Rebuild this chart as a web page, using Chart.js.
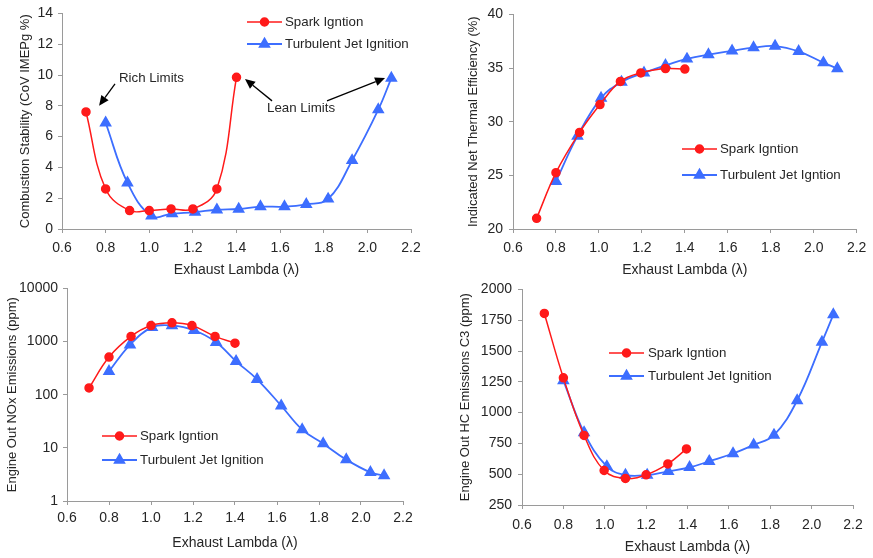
<!DOCTYPE html>
<html><head><meta charset="utf-8">
<script src="https://cdn.jsdelivr.net/npm/chart.js@4/dist/chart.umd.min.js"></script>
<style>
html,body{margin:0;padding:0;background:#fff;}
#wrap{position:relative;width:873px;height:558px;overflow:hidden;background:#fff;}
canvas{position:absolute;}
</style></head><body><div id="wrap">
<canvas id="c1" width="440" height="282" style="left:0;top:0"></canvas>
<canvas id="c2" width="433" height="282" style="left:440px;top:0"></canvas>
<canvas id="c3" width="440" height="283" style="left:0;top:275px"></canvas>
<canvas id="c4" width="433" height="283" style="left:440px;top:275px"></canvas>
</div>
<script>
// ---- data ----
const lambdaTicks = [0.6, 0.8, 1.0, 1.2, 1.4, 1.6, 1.8, 2.0, 2.2];
const seriesNames = ['Spark Igntion', 'Turbulent Jet Ignition'];
const seriesNamesEff = ['Spark Igntion', 'Turbulent Jet Igntion'];

// Combustion stability (CoV IMEPg %)
const covSI_x  = [0.71, 0.80, 0.91, 1.00, 1.10, 1.20, 1.31, 1.40];
const covSI_y  = [7.6, 2.6, 1.2, 1.2, 1.3, 1.3, 2.6, 9.85];
const covTJI_x = [0.80, 0.90, 1.01, 1.105, 1.21, 1.31, 1.41, 1.51, 1.62, 1.72, 1.82, 1.93, 2.05, 2.11];
const covTJI_y = [6.9, 3.0, 0.85, 1.0, 1.1, 1.25, 1.3, 1.45, 1.45, 1.6, 1.95, 4.45, 7.75, 9.8];
const covTicks = [0, 2, 4, 6, 8, 10, 12, 14];

// Indicated net thermal efficiency (%)
const effSI_x  = [0.71, 0.80, 0.91, 1.005, 1.10, 1.195, 1.31, 1.40];
const effSI_y  = [21.0, 25.25, 29.0, 31.6, 33.75, 34.55, 34.95, 34.9];
const effTJI_x = [0.80, 0.90, 1.01, 1.105, 1.21, 1.31, 1.41, 1.51, 1.62, 1.72, 1.82, 1.93, 2.045, 2.11];
const effTJI_y = [24.45, 28.65, 32.2, 33.7, 34.55, 35.25, 35.85, 36.25, 36.6, 36.9, 37.05, 36.55, 35.5, 34.95];
const effTicks = [20, 25, 30, 35, 40];

// Engine out NOx (ppm)
const noxSI_x  = [0.705, 0.80, 0.905, 1.00, 1.10, 1.195, 1.305, 1.40];
const noxSI_y  = [134, 510, 1250, 2000, 2250, 2000, 1250, 930];
const noxTJI_x = [0.80, 0.90, 1.005, 1.10, 1.205, 1.31, 1.405, 1.505, 1.62, 1.72, 1.82, 1.93, 2.045, 2.11];
const noxTJI_y = [275, 870, 1850, 2000, 1630, 970, 425, 195, 62, 22, 12, 6, 3.45, 3.0];
const noxTicks = [1, 10, 100, 1000, 10000];

// Engine out HC (ppm C3)
const hcSI_x  = [0.708, 0.80, 0.90, 0.997, 1.10, 1.20, 1.305, 1.395];
const hcSI_y  = [1805, 1282, 815, 530, 465, 495, 583, 705];
const hcTJI_x = [0.80, 0.90, 1.01, 1.10, 1.205, 1.307, 1.41, 1.505, 1.62, 1.72, 1.818, 1.93, 2.05, 2.105];
const hcTJI_y = [1260, 838, 563, 493, 493, 523, 555, 605, 668, 738, 818, 1098, 1572, 1795];
const hcTicks = [250, 500, 750, 1000, 1250, 1500, 1750, 2000];

// ---- styling ----
const RED = '#FF1A1A';
const BLUE = '#3D6EFF';
const FONT = "'Liberation Sans', Arial, sans-serif";
const TXT = '#262626';
const AX = '#9a9a9a';

function pts(xs, ys) { return xs.map((x, i) => ({x: x, y: ys[i]})); }

const legendPlugin = {
  id: 'innerLegend',
  afterDraw(chart, args, opts) {
    if (!opts || !opts.items) return;
    const ctx = chart.ctx;
    ctx.save();
    opts.items.forEach((it, i) => {
      const ds = chart.data.datasets[i];
      const y = it.y;
      ctx.strokeStyle = ds.borderColor;
      ctx.lineWidth = ds.borderWidth;
      ctx.beginPath(); ctx.moveTo(opts.x1, y); ctx.lineTo(opts.x2, y); ctx.stroke();
      Chart.helpers.drawPoint(ctx, {pointStyle: ds.pointStyle, radius: ds.pointRadius, borderWidth: 1, rotation: 0}, (opts.x1 + opts.x2) / 2, y);
      ctx.fillStyle = TXT;
      ctx.font = "13.3px " + FONT;
      ctx.textBaseline = 'middle';
      ctx.textAlign = 'left';
      ctx.fillText(ds.label, opts.tx, y);
    });
    ctx.restore();
  },
  beforeDraw() {}
};
// need fill style for drawPoint
const legendPlugin2 = {
  id: 'innerLegend2',
  afterDraw(chart, args, opts) {
    if (!opts || !opts.items) return;
    const ctx = chart.ctx;
    ctx.save();
    opts.items.forEach((it, i) => {
      const ds = chart.data.datasets[i];
      const y = it.y;
      ctx.strokeStyle = ds.borderColor;
      ctx.lineWidth = ds.borderWidth;
      ctx.beginPath(); ctx.moveTo(opts.x1, y); ctx.lineTo(opts.x2, y); ctx.stroke();
      ctx.fillStyle = ds.pointBackgroundColor;
      ctx.strokeStyle = ds.pointBackgroundColor;
      Chart.helpers.drawPoint(ctx, {pointStyle: ds.pointStyle, radius: ds.pointRadius, borderWidth: 1, rotation: 0}, (opts.x1 + opts.x2) / 2, y);
      ctx.fillStyle = TXT;
      ctx.font = "13.3px " + FONT;
      ctx.textBaseline = 'middle';
      ctx.textAlign = 'left';
      ctx.fillText(ds.label, opts.tx, y);
    });
    ctx.restore();
  }
};

const annotPlugin = {
  id: 'annot',
  afterDraw(chart, args, opts) {
    if (!opts || (!opts.arrows && !opts.texts)) return;
    const ctx = chart.ctx, xs = chart.scales.x, ys = chart.scales.y;
    ctx.save();
    (opts.texts || []).forEach(t => {
      ctx.fillStyle = TXT;
      ctx.font = "13.3px " + FONT;
      ctx.textAlign = 'left';
      ctx.textBaseline = 'middle';
      ctx.fillText(t.text, xs.getPixelForValue(t.x), ys.getPixelForValue(t.y));
    });
    (opts.arrows || []).forEach(a => {
      const x0 = xs.getPixelForValue(a.from[0]), y0 = ys.getPixelForValue(a.from[1]);
      const x1 = xs.getPixelForValue(a.to[0]), y1 = ys.getPixelForValue(a.to[1]);
      const ang = Math.atan2(y1 - y0, x1 - x0);
      const hl = 10, hw = 4.5;
      const bx = x1 - hl * Math.cos(ang), by = y1 - hl * Math.sin(ang);
      ctx.strokeStyle = '#000'; ctx.lineWidth = 1.3;
      ctx.beginPath(); ctx.moveTo(x0, y0); ctx.lineTo(bx, by); ctx.stroke();
      ctx.fillStyle = '#000';
      ctx.beginPath();
      ctx.moveTo(x1, y1);
      ctx.lineTo(bx + hw * Math.sin(ang), by - hw * Math.cos(ang));
      ctx.lineTo(bx - hw * Math.sin(ang), by + hw * Math.cos(ang));
      ctx.closePath(); ctx.fill();
    });
    ctx.restore();
  }
};

function makePanel(id, g, d) {
  const el = document.getElementById(id);
  const W = el.width, H = el.height;
  const isLog = d.yType === 'logarithmic';
  new Chart(el, {
    type: 'line',
    data: {
      datasets: [
        {label: d.names[0], data: pts(d.sx, d.sy), borderColor: RED, backgroundColor: RED,
         pointBackgroundColor: RED, pointBorderColor: RED, pointStyle: 'circle', pointRadius: 4,
         borderWidth: 1.5, tension: 0.4, fill: false},
        {label: d.names[1], data: pts(d.tx, d.ty), borderColor: BLUE, backgroundColor: BLUE,
         pointBackgroundColor: BLUE, pointBorderColor: BLUE, pointStyle: 'triangle', pointRadius: 5.5,
         borderWidth: 1.8, tension: 0.4, fill: false}
      ]
    },
    options: {
      responsive: false, animation: false, devicePixelRatio: 1,
      layout: {padding: {left: 0, top: g.T, right: W - g.R, bottom: 0}},
      plugins: {
        legend: {display: false}, tooltip: {enabled: false},
        innerLegend2: d.legend,
        annot: d.annot || {}
      },
      scales: {
        x: {
          type: 'linear', min: 0.6, max: 2.2,
          afterBuildTicks: s => { s.ticks = lambdaTicks.map(v => ({value: v})); },
          afterFit: s => { s.height = H - g.B; },
          ticks: {callback: v => Number(v).toFixed(1), font: {family: FONT, size: 14}, color: TXT,
                  padding: g.xgap - 4 - 8.4, maxRotation: 0, autoSkip: false},
          grid: {drawOnChartArea: false, drawTicks: true, tickLength: 4, color: AX},
          border: {color: AX, width: 1},
          title: {display: true, text: 'Exhaust Lambda (\u03BB)', font: {family: FONT, size: 14}, color: TXT,
                  padding: {top: 0, bottom: H - g.xt - 8.4}}
        },
        y: {
          type: d.yType, min: d.ymin, max: d.ymax,
          afterBuildTicks: s => { s.ticks = d.yticks.map(v => ({value: v})); },
          afterFit: s => { s.width = g.L; },
          ticks: {callback: v => String(v), font: {family: FONT, size: 14}, color: TXT,
                  padding: g.ygap - 4, autoSkip: false},
          grid: {drawOnChartArea: false, drawTicks: true, tickLength: 4, color: AX},
          border: {color: AX, width: 1},
          title: {display: true, text: d.ytitle, font: {family: FONT, size: 13}, color: TXT,
                  padding: {top: g.yt - 7.8, bottom: 0}}
        }
      }
    },
    plugins: [legendPlugin2, annotPlugin]
  });
}

makePanel('c1', {L: 62, R: 411, T: 12, B: 229, xgap: 19, xt: 270, yt: 25, ygap: 9}, {
  sx: covSI_x, sy: covSI_y, tx: covTJI_x, ty: covTJI_y, names: seriesNames,
  yType: 'linear', ymin: 0, ymax: 14, yticks: covTicks,
  ytitle: 'Combustion Stability (CoV IMEPg %)',
  legend: {x1: 247, x2: 282, tx: 285, items: [{y: 22}, {y: 44}]},
  annot: {
    texts: [{text: 'Rich Limits', x: 0.861, y: 9.81}, {text: 'Lean Limits', x: 1.54, y: 7.81}],
    arrows: [
      {from: [0.843, 9.42], to: [0.770, 8.0]},
      {from: [1.563, 8.32], to: [1.439, 9.74]},
      {from: [1.815, 8.32], to: [2.081, 9.81]}
    ]
  }
});

makePanel('c2', {L: 73, R: 422, T: 12, B: 229, xgap: 19, xt: 270, yt: 33, ygap: 10}, {
  sx: effSI_x, sy: effSI_y, tx: effTJI_x, ty: effTJI_y, names: seriesNamesEff,
  yType: 'linear', ymin: 20, ymax: 40, yticks: effTicks,
  ytitle: 'Indicated Net Thermal Efficiency (%)',
  legend: {x1: 242, x2: 277, tx: 280, items: [{y: 149}, {y: 175}]}
});

makePanel('c3', {L: 67, R: 403, T: 10, B: 226, xgap: 17, xt: 268, yt: 12.5, ygap: 9}, {
  sx: noxSI_x, sy: noxSI_y, tx: noxTJI_x, ty: noxTJI_y, names: seriesNames,
  yType: 'logarithmic', ymin: 1, ymax: 10000, yticks: noxTicks,
  ytitle: 'Engine Out NOx Emissions (ppm)',
  legend: {x1: 102, x2: 137, tx: 140, items: [{y: 161}, {y: 185}]}
});

makePanel('c4', {L: 82, R: 413, T: 12, B: 230, xgap: 20, xt: 272, yt: 25, ygap: 10}, {
  sx: hcSI_x, sy: hcSI_y, tx: hcTJI_x, ty: hcTJI_y, names: seriesNames,
  yType: 'linear', ymin: 250, ymax: 2000, yticks: hcTicks,
  ytitle: 'Engine Out HC Emissions C3 (ppm)',
  legend: {x1: 169, x2: 204, tx: 208, items: [{y: 78}, {y: 101}]}
});
</script>
</body></html>
